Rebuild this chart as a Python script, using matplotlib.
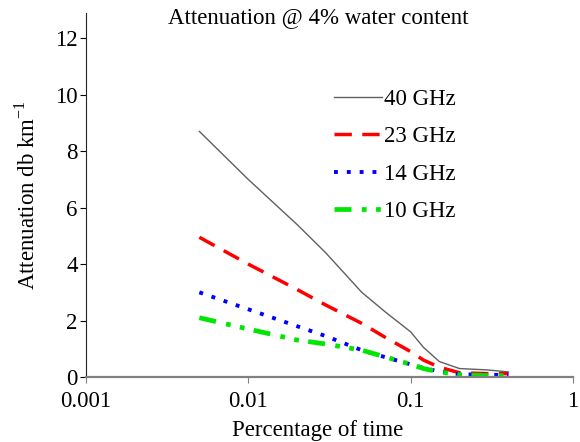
import numpy as np
import matplotlib
matplotlib.use('Agg')
import matplotlib.pyplot as plt

plt.rcParams['font.family'] = ['Liberation Serif', 'DejaVu Serif']
plt.rcParams['mathtext.fontset'] = 'custom'
plt.rcParams['mathtext.rm'] = 'Liberation Serif'

# percentage of time (x) and attenuation in dB/km (y)
pct = [0.005, 0.01, 0.02, 0.03, 0.05, 0.07, 0.1, 0.12, 0.15, 0.2, 0.3, 0.4]
att_40 = [8.7, 7.0, 5.4, 4.4, 3.0, 2.3, 1.6, 1.05, 0.55, 0.3, 0.25, 0.18]
att_23 = [4.95, 4.0, 3.1, 2.55, 1.9, 1.4, 0.9, 0.6, 0.35, 0.15, 0.12, 0.12]
att_14 = [3.0, 2.4, 1.8, 1.45, 0.95, 0.7, 0.45, 0.32, 0.2, 0.1, 0.08, 0.07]
att_10 = [2.1, 1.7, 1.31, 1.17, 0.95, 0.71, 0.45, 0.3, 0.18, 0.08, 0.05, 0.05]

fs = 16.5

fig = plt.figure(figsize=(5.8, 4.42), dpi=100)
ax = fig.add_axes([0.148, 0.147, 0.84, 0.824])

ax.plot(pct, att_40, color='#606060', lw=1.0, label='40 GHz')
ax.plot(pct, att_23, color='#ff0000', lw=2.5, dashes=(5, 3), label='23 GHz')
ax.plot(pct, att_14, color='#0000ff', lw=2.8, dashes=(1, 2.3), label='14 GHz')
ax.plot(pct, att_10, color='#00e600', lw=3.4, dashes=(3.6, 2.2, 1, 2, 1, 2), label='10 GHz')

ax.set_xscale('log')
ax.set_xlim(0.001, 1)
ax.set_ylim(0, 12.9)
ax.set_yticks([0, 2, 4, 6, 8, 10, 12])
ax.set_xticks([0.001, 0.01, 0.1, 1])
ax.set_xticklabels(['0.001', '0.01', '0.1', '1'])
ax.minorticks_off()

for s in ['top', 'right']:
    ax.spines[s].set_visible(False)
ax.spines['left'].set_color('#222222')
ax.spines['bottom'].set_color('#808080')
ax.spines['bottom'].set_linewidth(1.6)
ax.tick_params(axis='both', labelsize=fs, length=4, direction='out', pad=2)
ax.tick_params(axis='x', color='#808080', pad=6)

ax.set_xlabel('Percentage of time', fontsize=fs)
ax.xaxis.set_label_coords(0.476, -0.117)
ax.set_ylabel('Attenuation db km$^{-1}$', fontsize=fs, labelpad=11)

fig.text(318 / 580, 1 - 18 / 442, 'Attenuation @ 4% water content',
         ha='center', va='center', fontsize=fs)

ax.legend(loc='upper left', bbox_to_anchor=(0.49, 0.815), frameon=False,
          fontsize=fs, handlelength=2.1, handletextpad=0.1, labelspacing=0.7,
          borderaxespad=0)

fig.savefig('out.png', dpi=100)
